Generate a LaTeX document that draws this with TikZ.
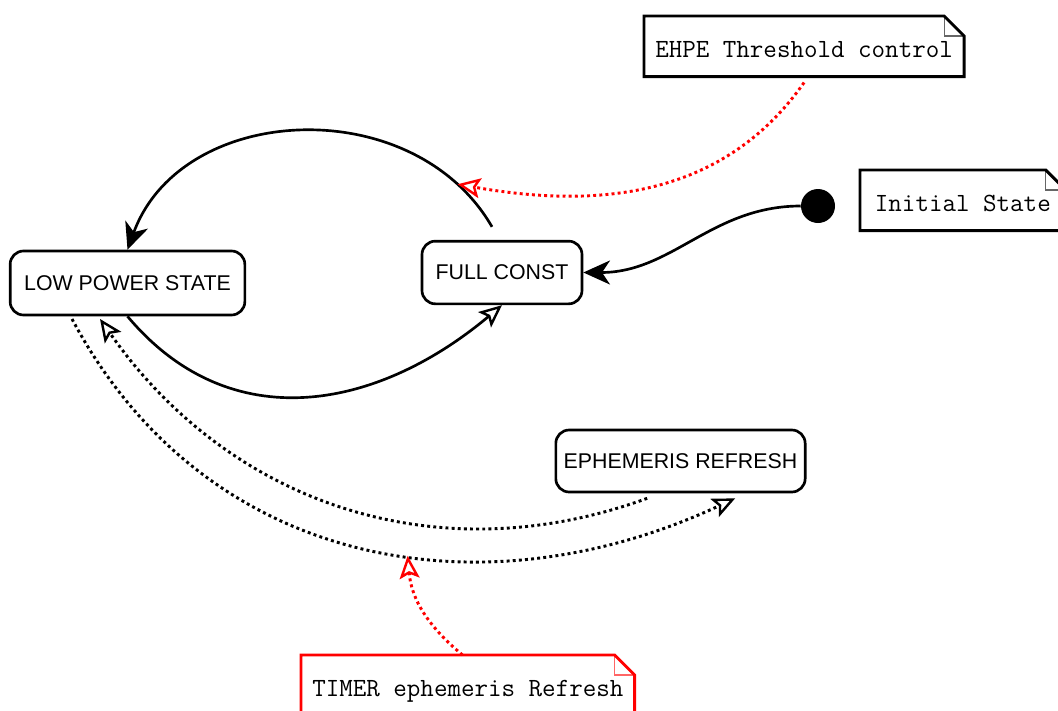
\documentclass[tikz,border=0pt]{standalone}
\usepackage{fontspec}
\usepackage{tikz}
\usetikzlibrary{arrows.meta}
\newfontfamily\statefont{Liberation Sans}
\newcommand{\noteframe}[2]{%
  \draw[#2, line width=2.2pt] (#1.north west) -- ([xshift=-15pt]#1.north east)
    -- ([yshift=-15pt]#1.north east) -- (#1.south east) -- (#1.south west) -- cycle;
  \draw[#2, line width=0.8pt, opacity=0.6] ([xshift=-15pt]#1.north east) |- ([yshift=-15pt]#1.north east);
}

\begin{document}
\begin{tikzpicture}
        [x = 0.75pt, y = 0.75pt,
         solidtip/.style = {-{Stealth[length=20pt, width=18pt, inset=6pt]}},
         opentip/.style = {-{Stealth[open, length=17pt, width=15pt, inset=3.5pt, line width=1.8pt]}},
         statebox/.style = {draw, line width=2pt, rounded corners=10pt,
                            font=\statefont\fontsize{16}{19}\selectfont},
         notebox/.style = {inner xsep=8.25pt, inner ysep=0pt, text height=30.75pt, text depth=14.25pt,
                           font=\ttfamily\fontsize{19.7}{22}\selectfont},
         trans/.style = {line width=2pt},
         dots/.style = {line width=2.2pt, dash pattern=on 2.2pt off 2.4pt, opentip}]
        \useasboundingbox (0,0) rectangle (1058,-711);
        \fill[white] (0,0) rectangle (1058,-711);

        \node[statebox, minimum width=176pt, minimum height=48pt] (low) at (127.5,-283) {LOW POWER STATE};
        \node[statebox, minimum width=120pt, minimum height=47pt] (full) at (502,-272.5) {FULL CONST};
        \node[statebox, minimum width=187pt, minimum height=46.5pt] (ephem) at (680.5,-461) {EPHEMERIS REFRESH};
        \node[fill, circle, minimum size=25.5pt, inner sep=0pt] (init) at (818,-206) {};

        \node[notebox, anchor=north west] (ehpe) at (644,-16) {EHPE Threshold control};
        \node[notebox, anchor=north west, inner xsep=11pt] (initnote) at (860,-170) {Initial State};
        \node[notebox, anchor=north west] (timer) at (301,-655) {TIMER ephemeris Refresh};
        \noteframe{ehpe}{black}
        \noteframe{initnote}{black}
        \noteframe{timer}{red}

        \draw[trans, solidtip] (init.west) to[out=180, in=0] (full.east);
        \draw[trans, solidtip] ([xshift=-7.5pt, yshift=9.75pt]full.north)
          to[out=120, in=70, looseness=1.1] coordinate[pos=0.12] (fullarc) (low.north);
        \draw[trans, opentip] (low.south) to[out=-50, in=220, looseness=1.1] (full.south);

        \draw[dots] ([xshift=-25pt, yshift=-3.75pt]ephem.south)
          to[out=-160, in=-55] ([xshift=-20.6pt, yshift=-2pt]low.south);
        \draw[dots] ([xshift=-41.6pt, yshift=-2pt]low.south)
          to[out=-62, in=205, looseness=1.05] coordinate[pos=0.57] (lowarc) ([xshift=41pt, yshift=-3.75pt]ephem.south);

        \draw[dots, red] ([yshift=-4.5pt]ehpe.south) to[out=-125, in=-10] (fullarc);
        \draw[dots, red] ([xshift=-4pt]timer.north) to[out=140, in=-85] (lowarc);
      \end{tikzpicture}
\end{document}
